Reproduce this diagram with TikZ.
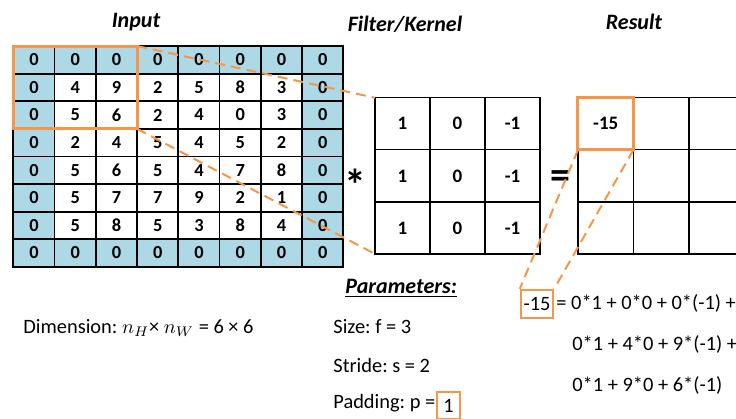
\documentclass[tikz,border=0pt]{standalone}
\usepackage{fontspec}
\setmainfont{Carlito}
\usepackage{amsmath}
\usepackage{xcolor}
\definecolor{padblue}{HTML}{ADD8E6}
\definecolor{boxorange}{HTML}{F79646}
\frenchspacing

\begin{document}
\begin{tikzpicture}[x=0.5pt,y=-0.5pt,
    incell/.style={draw,line width=0.9pt,minimum width=20.625pt,minimum height=13.8pt,inner sep=0pt,outer sep=0pt,font=\fontsize{9.2}{10}\selectfont\bfseries},
    bigcell/.style={draw,line width=0.6pt,minimum width=27.5pt,minimum height=26pt,inner sep=0pt,outer sep=0pt,font=\fontsize{9.5}{11}\selectfont\bfseries},
    title/.style={font=\fontsize{11}{13}\selectfont\bfseries\itshape},
    txt/.style={anchor=base west,inner sep=0pt,font=\fontsize{10.2}{12}\selectfont},
    hl/.style={draw=boxorange,line width=1.5pt},
    link/.style={draw=boxorange,line width=1pt,dash pattern=on 5pt off 3pt}]
            \clip (0,0) rectangle (736,419);

            \foreach \row [count=\i from 0] in {{0,0,0,0,0,0,0,0},{0,4,9,2,5,8,3,0},{0,5,6,2,4,0,3,0},{0,2,4,5,4,5,2,0},{0,5,6,5,4,7,8,0},{0,5,7,7,9,2,1,0},{0,5,8,5,3,8,4,0},{0,0,0,0,0,0,0,0}}
              \foreach \v [count=\j from 0] in \row {
                \pgfmathtruncatemacro\pad{(\i==0)||(\i==7)||(\j==0)||(\j==7)}
                \ifnum\pad=1 \def\cellfill{padblue}\else\def\cellfill{white}\fi
                \node (in-\i-\j) at ({13.3+41.25*(\j+0.5)},{46+27.6*(\i+0.5)}) [incell,fill=\cellfill] {\v};
              }

            \foreach \i in {0,1,2}
              \foreach \v [count=\j from 0] in {1,0,-1}
                \node (flt-\i-\j) at ({375+55*(\j+0.5)},{97.7+52.1*(\i+0.5)}) [bigcell] {\v};

            \foreach \i in {0,1,2}
              \foreach \j in {0,1,2}
                \node (res-\i-\j) at ({578+55.5*(\j+0.5)},{97.7+52.1*(\i+0.5)}) [bigcell,minimum width=27.75pt] {};
            \node (res-val) at (res-0-0) [font=\fontsize{9.5}{11}\selectfont\bfseries] {-15};

            \draw[hl] (in-0-0.north west) rectangle (in-2-2.south east);
            \draw[hl] (res-0-0.north west) rectangle (res-0-0.south east);

            \node (ttl-in) at (136,22) [title] {Input};
            \node (ttl-flt) at (405,24) [title] {Filter/Kernel};
            \node (ttl-res) at (634,22) [title] {Result};
            \node (op-conv) at (355,185) [font=\fontsize{22}{24}\selectfont\bfseries] {*};
            \node (op-eq) at (560,180) [font=\fontsize{20}{22}\selectfont\bfseries] {=};

            \node (par) at (345,293) [title,anchor=base west,inner sep=0pt] {\underline{Parameters:}};
            \node (dim) at (23,333) [txt] {Dimension: $n_H$× $n_W$ = 6 × 6};
            \node (size) at (333,333) [txt] {Size: f = 3};
            \node (stride) at (333,372) [txt] {Stride: s = 2};
            \node (padd) at (333,408) [txt] {Padding: p =};
            \node (padbox) at (448.5,405.5) [draw=boxorange,line width=1.2pt,minimum width=11.5pt,minimum height=13.5pt,inner sep=0pt,font=\fontsize{10.2}{12}\selectfont] {1};

            \node (eq15) at (537,304) [draw=boxorange,line width=1.2pt,minimum width=16pt,minimum height=14pt,inner sep=0pt,font=\fontsize{10.2}{12}\selectfont] {-15};
            \node (eq-l1) at (556,309) [txt] {= 0*1 + 0*0 + 0*(-1) +};
            \node (eq-l2) at (572,350) [txt] {0*1 + 4*0 + 9*(-1) +};
            \node (eq-l3) at (572,391.5) [txt] {0*1 + 9*0 + 6*(-1)};

            \draw[link] (in-0-2.north east) -- (flt-0-0.north west);
            \draw[link] (in-2-2.south east) -- (flt-2-0.south west);
            \draw[link] (res-0-0.south west) -- (eq15.north west);
            \draw[link] (res-0-0.south east) -- (eq15.north east);

        \end{tikzpicture}
\end{document}
